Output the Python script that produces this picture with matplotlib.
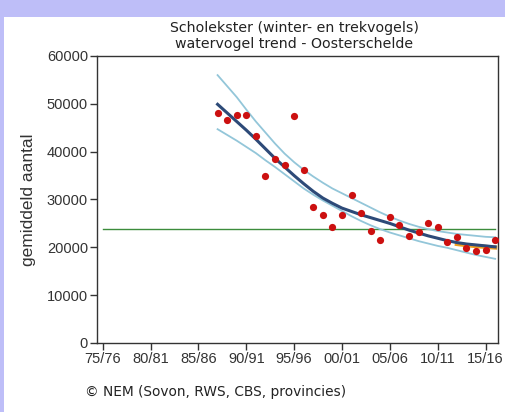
import matplotlib
matplotlib.use("Agg")
import matplotlib.pyplot as plt

# ---- data ----
years = list(range(1987, 2017))
counts = [48150, 46600, 47600, 47600, 43300, 34900, 38500, 37300, 47500, 36200,
          28400, 26800, 24200, 26800, 31000, 27100, 23500, 21500, 26300, 24700,
          22400, 23200, 25000, 24200, 21200, 22100, 19900, 19300, 19400, 21500]
trend = [49900, 48100, 46300, 44500, 42600, 40600, 38600, 36800, 35000, 33300,
         31700, 30300, 29200, 28200, 27500, 26800, 26200, 25600, 25000, 24300,
         23600, 23000, 22400, 21900, 21400, 21000, 20700, 20500, 20300, 20100]
upper = [56000, 53700, 51400, 48800, 46300, 44000, 41700, 39600, 37800, 36200,
         34800, 33500, 32300, 31300, 30300, 29300, 28300, 27300, 26400, 25600,
         24900, 24300, 23800, 23400, 23100, 22800, 22600, 22400, 22200, 22100]
lower = [44700, 43500, 42300, 41000, 39700, 38200, 36800, 35300, 33800, 32300,
         31000, 29800, 28700, 27600, 26500, 25500, 24600, 23800, 23100, 22500,
         21900, 21300, 20800, 20300, 19900, 19400, 18900, 18400, 18000, 17600]
recent_years = [2012, 2013, 2014, 2015, 2016]
recent_trend = [20700, 20450, 20250, 20100, 19950]
reference_level = 23830
ref_span = [1975, 2016]
xtick_pos = [1975, 1980, 1985, 1990, 1995, 2000, 2005, 2010, 2015]
xtick_labels = ["75/76", "80/81", "85/86", "90/91", "95/96", "00/01", "05/06", "10/11", "15/16"]
ytick_pos = [0, 10000, 20000, 30000, 40000, 50000, 60000]

# ---- figure ----
fig = plt.figure(figsize=(5.06, 4.12), dpi=100)
fig.patch.set_facecolor("#bebef8")
# white panel
bg = fig.add_axes([4 / 506, 0, 1 - 4 / 506, 1 - 17 / 412], zorder=-10)
bg.set_facecolor("white")
bg.set_xticks([])
bg.set_yticks([])
for s in bg.spines.values():
    s.set_visible(False)

ax = fig.add_axes([97 / 506, 1 - 343 / 412, (498 - 97) / 506, (343 - 56) / 412], zorder=1)
ax.set_facecolor("white")

ax.plot(ref_span, [reference_level, reference_level], color="#3c8c3c", lw=1.0, zorder=2)
ax.plot(years, upper, color="#93c6d9", lw=1.3, zorder=3)
ax.plot(years, lower, color="#93c6d9", lw=1.3, zorder=3)
ax.plot(recent_years, recent_trend, color="#f0a020", lw=3.0, zorder=3.5)
ax.plot(years, trend, color="#2d4a78", lw=2.2, zorder=4)
ax.plot(years, counts, "o", color="#cc1010", ms=5.2, mec="none", zorder=5)

ax.set_xlim(1974.4, 2016.3)
ax.set_ylim(0, 60000)
ax.set_xticks(xtick_pos)
ax.set_xticklabels(xtick_labels)
ax.set_yticks(ytick_pos)
ax.set_yticklabels([str(v) for v in ytick_pos])

for s in ax.spines.values():
    s.set_color("#333333")
    s.set_linewidth(1.0)
ax.tick_params(axis="both", direction="out", length=5, width=1, color="#333333",
               labelcolor="#333333", labelsize=10.5, pad=1.5)
for lab in ax.get_xticklabels() + ax.get_yticklabels():
    lab.set_family("Liberation Sans")

ax.set_ylabel("gemiddeld aantal", fontsize=12.5, family="Liberation Sans", color="#333333", labelpad=8)

fig.text(294 / 506, 1 - 28 / 412, "Scholekster (winter- en trekvogels)", ha="center", va="center",
         fontsize=10.2, family="DejaVu Sans", color="#222222")
fig.text(294 / 506, 1 - 44 / 412, "watervogel trend - Oosterschelde", ha="center", va="center",
         fontsize=10.2, family="DejaVu Sans", color="#222222")
fig.text(85 / 506, 1 - 392 / 412, "\u00a9 NEM (Sovon, RWS, CBS, provincies)", ha="left", va="center",
         fontsize=9.9, family="DejaVu Sans", color="#222222")

fig.savefig("out.png", dpi=100, facecolor=fig.get_facecolor())
